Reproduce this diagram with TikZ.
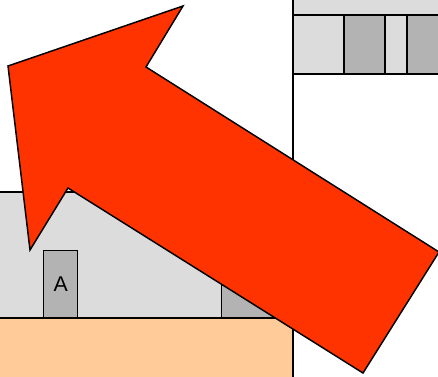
\documentclass[tikz,border=0pt]{standalone}
\usepackage{fontspec}
\setmainfont{Liberation Sans}
\usepackage{tikz}
\definecolor{mylight}{RGB}{220,220,220}
\definecolor{mydark}{RGB}{179,179,179}
\definecolor{mypeach}{RGB}{255,204,153}
\definecolor{myred}{RGB}{255,51,0}

\begin{document}
\begin{tikzpicture}[x=0.75pt,y=-0.75pt,line width=1.1pt,every node/.style={font=\fontsize{16}{18}\selectfont}]
\tikzstyle{lg}=[draw,fill=mylight]
\tikzstyle{dg}=[draw,fill=mydark]
\useasboundingbox (0,0) rectangle (438,377);
\clip (0,0) rectangle (438,377);
% bottom left block
\draw[lg] (-2,192) rectangle (293,318);
\draw[draw,fill=mypeach] (-2,318) rectangle (293,380);
\node[dg,minimum width=25.5pt,minimum height=50.25pt,inner sep=0pt,anchor=south west](boxa) at (43,318) {A};
\node[dg,minimum width=48pt,minimum height=50.25pt,inner sep=0pt,anchor=south west](boxb) at (221,318) {};
% top right block
\draw[lg] (293,-2) rectangle (440,74);
\draw[lg] (293,15) rectangle (344,74);
\draw[dg] (344,15) rectangle (385,74);
\draw[lg] (385,15) rectangle (407,74);
\draw[dg] (407,15) rectangle (440,74);
\draw (293,-2) -- (293,380);
% big arrow
\draw[fill=myred,line width=1.1pt,line join=miter] (8,66) -- (183,6) -- (146,67) -- (439,252) -- (363,373) -- (68,188) -- (30,250) -- cycle;
\end{tikzpicture}
\end{document}
